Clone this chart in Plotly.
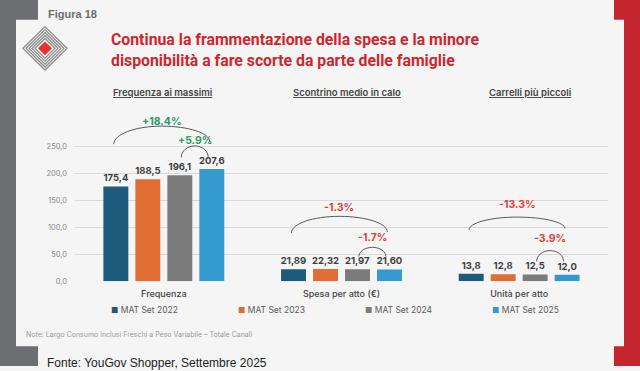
import plotly.graph_objects as go

# ---------------- data ----------------
categories = ["Frequenza", "Spesa per atto (€)", "Unità per atto"]
series_names = ["MAT Set 2022", "MAT Set 2023", "MAT Set 2024", "MAT Set 2025"]
mat_set_2022 = [175.4, 21.89, 13.8]
mat_set_2023 = [188.5, 22.32, 12.8]
mat_set_2024 = [196.1, 21.97, 12.5]
mat_set_2025 = [207.6, 21.60, 12.0]
label_decimals = [1, 2, 1]
group_titles = ["Frequenza ai massimi", "Scontrino medio in calo", "Carrelli più piccoli"]
change_2022_to_2025 = ["+18.4%", "-1.3%", "-13.3%"]
change_2024_to_2025 = ["+5.9%", "-1.7%", "-3.9%"]
y_tick_values = [0, 50, 100, 150, 200, 250]

title_text = ("Continua la frammentazione della spesa e la minore<br>"
              "disponibilità a fare scorte da parte delle famiglie")
figure_label = "Figura 18"
note_text = "Note: Largo Consumo inclusi Freschi a Peso Variabile – Totale Canali"
source_text = "Fonte: YouGov Shopper, Settembre 2025"

# ---------------- style ----------------
W, H = 640, 371
BG = "#f4f5f4"
series_colors = ["#1e5a7b", "#e06d34", "#7b7b7b", "#3499cf"]
UP = "#2e9a6c"
DOWN = "#e23d3a"
FONT = "Inter, Roboto, sans-serif"
BARGAP = 0.28
GROUPGAP = 0.22

def px(x):
    return x / W

def py(y):
    return 1 - y / H

series_values = [mat_set_2022, mat_set_2023, mat_set_2024, mat_set_2025]
x_pos = list(range(len(categories)))

fig = go.Figure()
for name, vals, col in zip(series_names, series_values, series_colors):
    texts = [f"{v:.{d}f}".replace(".", ",") for v, d in zip(vals, label_decimals)]
    fig.add_trace(go.Bar(
        x=x_pos, y=vals, name=name, marker=dict(color=col, line=dict(width=0)),
        text=texts, textposition="outside", constraintext="none", cliponaxis=False,
        textfont=dict(family=FONT, size=9.5, color="#3f3f3f", weight=700),
        showlegend=False, hoverinfo="skip",
    ))

n = len(series_names)
slot = (1 - BARGAP) / n
def bar_center(cat, i):
    return cat - (1 - BARGAP) / 2 + slot * (i + 0.5)

# arc geometry in data units: (left end y, right end y, top y, label y)
arc_geom = [
    ((253.6, 258.6, 287.0, 296.5), (229.0, 229.0, 250.5, 261.0)),
    ((89.4, 91.2, 120.0, 137.0), (45.6, 45.6, 62.6, 80.8)),
    ((95.0, 97.4, 118.6, 141.8), (36.5, 36.5, 56.6, 79.0)),
]

def arc_path(x0, x1, y0, y1, yt):
    k = 0.5523
    xm = (x0 + x1) / 2
    rx = (x1 - x0) / 2
    return (f"M{x0},{y0} C{x0},{y0 + k * (yt - y0)} {xm - k * rx},{yt} {xm},{yt} "
            f"C{xm + k * rx},{yt} {x1},{y1 + k * (yt - y1)} {x1},{y1}")

shapes = []
annotations = []
for c in x_pos:
    big, small = arc_geom[c]
    color = UP if change_2022_to_2025[c].startswith("+") else DOWN
    x0, x1 = bar_center(c, 0) - 0.012, bar_center(c, n - 1) - 0.012
    shapes.append(dict(type="path", xref="x", yref="y",
                       path=arc_path(x0, x1, big[0], big[1], big[2]),
                       line=dict(color="#5a5a5a", width=1)))
    annotations.append(dict(x=(x0 + x1) / 2, y=big[3], xref="x", yref="y",
                            text=change_2022_to_2025[c], showarrow=False,
                            font=dict(family=FONT, size=10.5, color=color, weight=700)))
    x0, x1 = bar_center(c, n - 2) + 0.008, bar_center(c, n - 1) - 0.02
    shapes.append(dict(type="path", xref="x", yref="y",
                       path=arc_path(x0, x1, small[0], small[1], small[2]),
                       line=dict(color="#5a5a5a", width=1)))
    annotations.append(dict(x=(x0 + x1) / 2, y=small[3], xref="x", yref="y",
                            text=change_2024_to_2025[c], showarrow=False,
                            font=dict(family=FONT, size=10.5, color=color, weight=700)))

# group titles (underlined)
title_centers = [162.5, 347, 530]
for t, cx in zip(group_titles, title_centers):
    annotations.append(dict(x=px(cx), y=py(94), xref="paper", yref="paper",
                            text=f"<u>{t}</u>", showarrow=False,
                            xanchor="center", yanchor="middle",
                            font=dict(family=FONT, size=9.5, color="#444444", weight=600)))

# legend
legend_x = [109, 236, 363, 490]
for name, col, lx in zip(series_names, series_colors, legend_x):
    annotations.append(dict(x=px(lx), y=py(314), xref="paper", yref="paper",
                            text=f"<span style='color:{col};font-size:8px'>■</span> {name}",
                            showarrow=False, xanchor="left", yanchor="middle",
                            font=dict(family=FONT, size=8.5, color="#5a5a5a")))

annotations += [
    dict(x=px(109), y=py(50.5), xref="paper", yref="paper", text=f"<b>{title_text}</b>",
         showarrow=False, xanchor="left", yanchor="middle", align="left",
         font=dict(family="Roboto, sans-serif", size=15.8, color="#d1252e")),
    dict(x=px(46), y=py(14), xref="paper", yref="paper", text=f"<b>{figure_label}</b>",
         showarrow=False, xanchor="left", yanchor="middle",
         font=dict(family="Liberation Sans, Arial, sans-serif", size=11, color="#6d6e71")),
    dict(x=px(24), y=py(339), xref="paper", yref="paper", text=note_text,
         showarrow=False, xanchor="left", yanchor="middle",
         font=dict(family=FONT, size=7, color="#9a9a9a")),
    dict(x=px(45), y=py(368), xref="paper", yref="paper", text=source_text,
         showarrow=False, xanchor="left", yanchor="middle",
         font=dict(family="Liberation Sans, Arial, sans-serif", size=12, color="#1e1e1e")),
]

# frame brackets
GRAY = "#6d6e71"
RED = "#c5262d"
def rect(x0, y0, x1, y1, col):
    return dict(type="rect", xref="paper", yref="paper", x0=px(x0), x1=px(x1),
                y0=py(y1), y1=py(y0), fillcolor=col, line=dict(width=0), layer="below")
shapes += [
    rect(0, 0, 16, H, GRAY), rect(0, 0, 38, 20, GRAY), rect(0, 351, 38, H, GRAY),
    rect(624, 0, W, H, RED), rect(614, 0, W, 20, RED), rect(614, 351, W, H, RED),
]

# logo: concentric striped diamonds + red diamond
lcx, lcy = 45, 49
def diamond(r):
    pts = [(lcx, lcy - r), (lcx + r, lcy), (lcx, lcy + r), (lcx - r, lcy)]
    return "M" + " L".join(f"{px(a)},{py(b)}" for a, b in pts) + " Z"
for r in [10, 13, 16, 19, 22]:
    shapes.append(dict(type="path", xref="paper", yref="paper", path=diamond(r),
                       line=dict(color="#8c8c8c", width=1.3)))
shapes.append(dict(type="path", xref="paper", yref="paper", path=diamond(7),
                   fillcolor="#e8322b", line=dict(width=0)))

fig.update_layout(
    width=W, height=H, margin=dict(l=0, r=0, t=0, b=0),
    paper_bgcolor=BG, plot_bgcolor=BG,
    separators=",.",
    barmode="group", bargap=BARGAP, bargroupgap=GROUPGAP,
    showlegend=False,
    shapes=shapes, annotations=annotations,
    xaxis=dict(domain=[px(75), px(608)], range=[-0.5, 2.5], tickvals=x_pos,
               ticktext=categories, showgrid=False, zeroline=False, showline=False,
               ticks="", ticklabelstandoff=6,
               tickfont=dict(family=FONT, size=9, color="#444444", weight=500)),
    yaxis=dict(domain=[py(285), py(112)], range=[0, 316], tickvals=y_tick_values,
               tickformat=".1f", showgrid=True, gridcolor="#dadada", gridwidth=1,
               zeroline=False, showline=False, ticks="", ticklabelstandoff=7,
               tickfont=dict(family=FONT, size=7.5, color="#8a8a8a")),
)

post = (
    "document.documentElement.style.margin='0';"
    "document.documentElement.style.overflow='hidden';"
    "document.body.style.margin='0';"
    "document.body.style.overflow='hidden';"
    "var gd=document.getElementById('{plot_id}');"
    "gd.parentElement.style.height='371px';"
    "gd.parentElement.style.overflow='hidden';"
)
fig.write_html("out.html", config={"displayModeBar": False}, post_script=post)
